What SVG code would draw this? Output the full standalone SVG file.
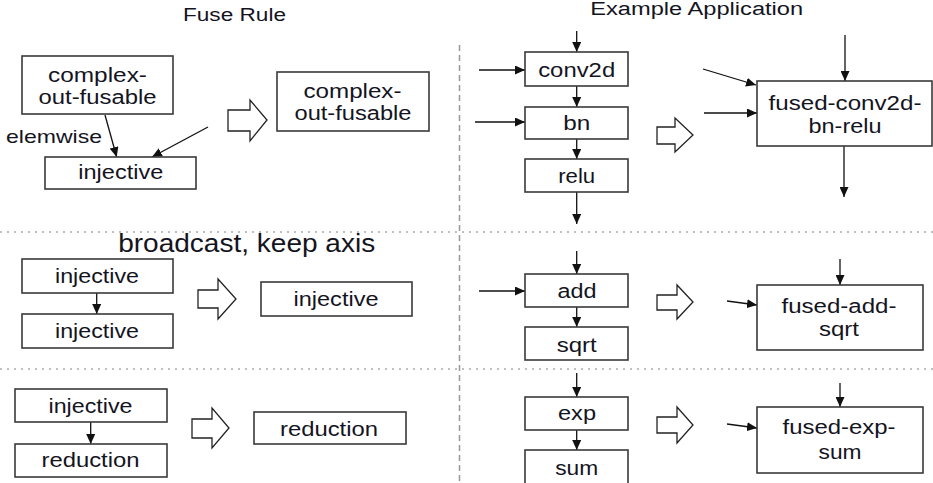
<svg xmlns="http://www.w3.org/2000/svg" width="933" height="483" viewBox="0 0 933 483">
<defs>
<marker id="ah" markerUnits="userSpaceOnUse" markerWidth="11" markerHeight="9" refX="10" refY="4.5" orient="auto">
<path d="M0,0 L10,4.5 L0,9 z" fill="#111"/>
</marker>
<style>
.box{fill:#fff;stroke:#3a3a3a;stroke-width:1.6}
.t{font-family:"Liberation Sans",Arial,sans-serif;font-size:20px;fill:#14141e;text-anchor:middle}
.h{font-size:18px}
.c{stroke:#111;stroke-width:1.3;fill:none;marker-end:url(#ah)}
.blk{fill:#fff;stroke:#222;stroke-width:1.3}
.dash{stroke:#999;stroke-width:1.5;stroke-dasharray:6 4;fill:none}
.dot{stroke:#aaa;stroke-width:1.5;stroke-dasharray:2 5;fill:none}
</style>
</defs>
<rect width="933" height="483" fill="#fff"/>

<g id="separators">
<line class="dash" x1="459.5" y1="45" x2="459.5" y2="483"/>
<line class="dot" x1="0" y1="232" x2="933" y2="232"/>
<line class="dot" x1="0" y1="369" x2="933" y2="369"/>
</g>

<g id="titles">
<text class="t h" x="234.5" y="20.5" textLength="103" lengthAdjust="spacingAndGlyphs">Fuse Rule</text>
<text class="t h" x="696.7" y="15" textLength="213" lengthAdjust="spacingAndGlyphs">Example Application</text>
<text class="t" x="246.7" y="252" style="font-size:26px" textLength="257" lengthAdjust="spacingAndGlyphs">broadcast, keep axis</text>
<text class="t" x="54" y="143" style="font-size:19px" textLength="96" lengthAdjust="spacingAndGlyphs">elemwise</text>
</g>

<g id="block-arrows">
<polygon class="blk" points="228,110 250,110 250,100 267,120 250,141 250,131 228,131"/>
<polygon class="blk" points="657,127 675,127 675,118 693,135 675,152 675,144 657,144"/>
<polygon class="blk" points="198,290 218,290 218,279 236,299 218,319 218,308 198,308"/>
<polygon class="blk" points="657,295 677,295 677,285 693,302 677,319 677,310 657,310"/>
<polygon class="blk" points="192,419 212,419 212,408 229,428 212,448 212,438 192,438"/>
<polygon class="blk" points="657,417 677,417 677,407 693,425 677,443 677,433 657,433"/>
</g>

<g id="connectors">
<line class="c" x1="105" y1="115" x2="116.7" y2="157"/>
<line class="c" x1="208" y1="127" x2="152" y2="157"/>
<line class="c" x1="576.7" y1="31" x2="576.7" y2="52"/>
<line class="c" x1="576.7" y1="86" x2="576.7" y2="107"/>
<line class="c" x1="576.7" y1="139" x2="576.7" y2="159"/>
<line class="c" x1="576.7" y1="192" x2="576.7" y2="224"/>
<line class="c" x1="479" y1="70" x2="525" y2="70"/>
<line class="c" x1="475" y1="122" x2="525" y2="122"/>
<line class="c" x1="845" y1="35" x2="845" y2="81"/>
<line class="c" x1="703" y1="69" x2="756" y2="85"/>
<line class="c" x1="704" y1="113" x2="757" y2="113"/>
<line class="c" x1="844" y1="146" x2="844" y2="197"/>
<line class="c" x1="96.7" y1="293" x2="96.7" y2="314"/>
<line class="c" x1="576.7" y1="251" x2="576.7" y2="274"/>
<line class="c" x1="479" y1="291" x2="525" y2="291"/>
<line class="c" x1="576.7" y1="307" x2="576.7" y2="327"/>
<line class="c" x1="840" y1="259" x2="840" y2="285"/>
<line class="c" x1="727" y1="301" x2="757" y2="305"/>
<line class="c" x1="90.7" y1="422" x2="90.7" y2="444"/>
<line class="c" x1="576.7" y1="373" x2="576.7" y2="397"/>
<line class="c" x1="576.7" y1="430" x2="576.7" y2="450"/>
<line class="c" x1="840" y1="383" x2="840" y2="407"/>
<line class="c" x1="727" y1="424" x2="757" y2="428"/>
</g>

<g id="n-complex-left">
<rect class="box" x="22" y="56" width="151" height="58"/>
<text class="t" x="97.5" y="81.7" textLength="99" lengthAdjust="spacingAndGlyphs">complex-</text>
<text class="t" x="97.5" y="104" textLength="118" lengthAdjust="spacingAndGlyphs">out-fusable</text>
</g>
<g id="n-injective-1">
<rect class="box" x="45" y="157" width="151" height="32"/>
<text class="t" x="120.8" y="179.3" textLength="85" lengthAdjust="spacingAndGlyphs">injective</text>
</g>
<g id="n-complex-right">
<rect class="box" x="277" y="72" width="152" height="59"/>
<text class="t" x="352.5" y="97.7" textLength="98" lengthAdjust="spacingAndGlyphs">complex-</text>
<text class="t" x="353" y="120" textLength="117" lengthAdjust="spacingAndGlyphs">out-fusable</text>
</g>
<g id="n-conv2d">
<rect class="box" x="525" y="52" width="103" height="34"/>
<text class="t" x="576.7" y="76.7" textLength="77" lengthAdjust="spacingAndGlyphs">conv2d</text>
</g>
<g id="n-bn">
<rect class="box" x="525" y="107" width="103" height="32"/>
<text class="t" x="576.7" y="130" textLength="27" lengthAdjust="spacingAndGlyphs">bn</text>
</g>
<g id="n-relu">
<rect class="box" x="525" y="159" width="103" height="33"/>
<text class="t" x="576.7" y="182.7" textLength="37" lengthAdjust="spacingAndGlyphs">relu</text>
</g>
<g id="n-fused-conv2d">
<rect class="box" x="757" y="81" width="175" height="65"/>
<text class="t" x="845" y="110" textLength="153" lengthAdjust="spacingAndGlyphs">fused-conv2d-</text>
<text class="t" x="845" y="133.3" textLength="73" lengthAdjust="spacingAndGlyphs">bn-relu</text>
</g>

<g id="n-injective-a">
<rect class="box" x="22" y="259" width="151" height="34"/>
<text class="t" x="97" y="283.3" textLength="84" lengthAdjust="spacingAndGlyphs">injective</text>
</g>
<g id="n-injective-b">
<rect class="box" x="22" y="314" width="151" height="34"/>
<text class="t" x="97" y="338.3" textLength="84" lengthAdjust="spacingAndGlyphs">injective</text>
</g>
<g id="n-injective-r">
<rect class="box" x="261" y="282" width="151" height="34"/>
<text class="t" x="336" y="306" textLength="85" lengthAdjust="spacingAndGlyphs">injective</text>
</g>
<g id="n-add">
<rect class="box" x="525" y="274" width="103" height="33"/>
<text class="t" x="577" y="298.3" textLength="39" lengthAdjust="spacingAndGlyphs">add</text>
</g>
<g id="n-sqrt">
<rect class="box" x="525" y="327" width="103" height="33"/>
<text class="t" x="576.7" y="351.7" textLength="40" lengthAdjust="spacingAndGlyphs">sqrt</text>
</g>
<g id="n-fused-add">
<rect class="box" x="757" y="285" width="166" height="65"/>
<text class="t" x="839" y="313.3" textLength="115" lengthAdjust="spacingAndGlyphs">fused-add-</text>
<text class="t" x="839" y="336" textLength="40" lengthAdjust="spacingAndGlyphs">sqrt</text>
</g>

<g id="n-injective-c">
<rect class="box" x="15" y="389" width="152" height="33"/>
<text class="t" x="90.5" y="413.3" textLength="84" lengthAdjust="spacingAndGlyphs">injective</text>
</g>
<g id="n-reduction-l">
<rect class="box" x="15" y="444" width="152" height="33"/>
<text class="t" x="90.5" y="467.3" textLength="98" lengthAdjust="spacingAndGlyphs">reduction</text>
</g>
<g id="n-reduction-r">
<rect class="box" x="254" y="412" width="152" height="32"/>
<text class="t" x="329" y="435.7" textLength="98" lengthAdjust="spacingAndGlyphs">reduction</text>
</g>
<g id="n-exp">
<rect class="box" x="525" y="397" width="103" height="33"/>
<text class="t" x="577" y="420" textLength="38" lengthAdjust="spacingAndGlyphs">exp</text>
</g>
<g id="n-sum">
<rect class="box" x="525" y="450" width="103" height="40"/>
<text class="t" x="576.7" y="475" textLength="43" lengthAdjust="spacingAndGlyphs">sum</text>
</g>
<g id="n-fused-exp">
<rect class="box" x="757" y="407" width="166" height="66"/>
<text class="t" x="839" y="434" textLength="113" lengthAdjust="spacingAndGlyphs">fused-exp-</text>
<text class="t" x="840" y="459.3" textLength="43" lengthAdjust="spacingAndGlyphs">sum</text>
</g>
</svg>
